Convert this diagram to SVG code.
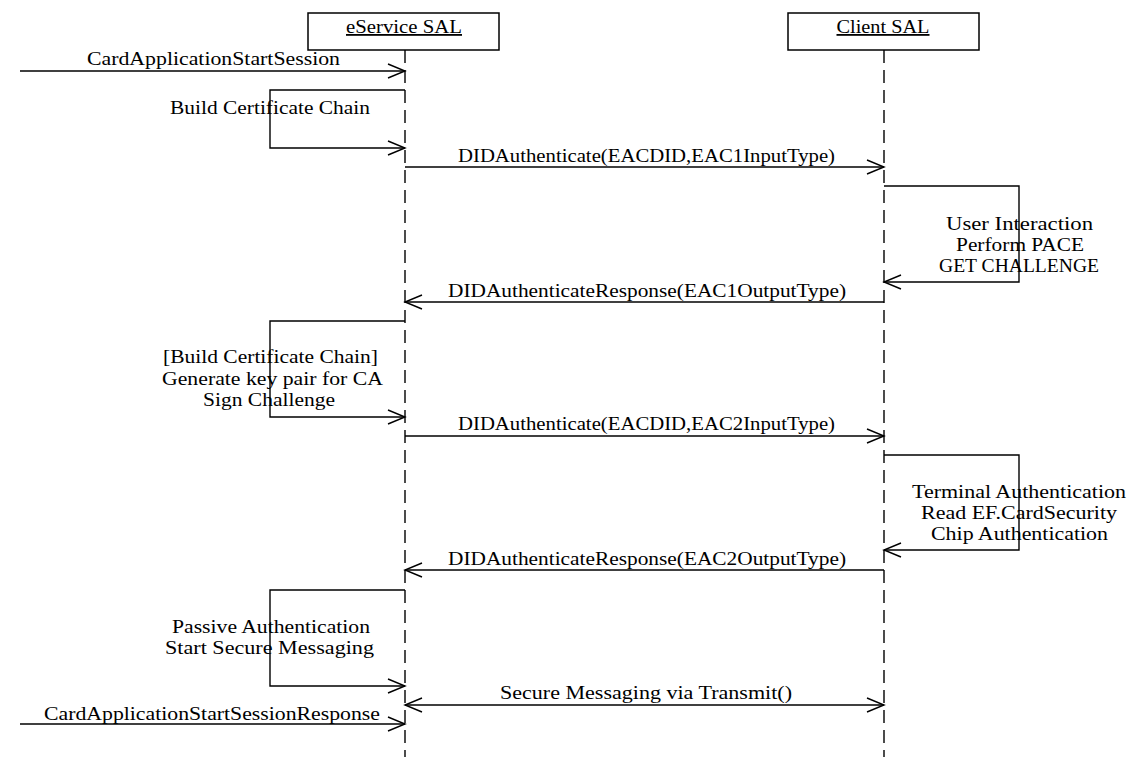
<svg xmlns="http://www.w3.org/2000/svg" width="1133" height="757" viewBox="0 0 1133 757">
<style>
  .bg { fill: #ffffff; }
  .box { fill: #ffffff; stroke: #000000; stroke-width: 1.5; }
  .life { stroke: #000000; stroke-width: 1.4; stroke-dasharray: 13 7; fill: none; }
  .msg { stroke: #000000; stroke-width: 1.4; fill: none; marker-end: url(#open); }
  .both { marker-start: url(#openStart); }
  text { font-family: "Liberation Serif", "DejaVu Serif", serif; font-size: 18px; fill: #000000; text-anchor: middle; }
  .head { text-decoration: underline; }
</style>
<defs>
  <marker id="open" markerUnits="userSpaceOnUse" markerWidth="22" markerHeight="18" viewBox="-19 -9 22 18" refX="0" refY="0" orient="auto">
    <path d="M-17,-7 L0,0 L-17,7" fill="none" stroke="#000000" stroke-width="1.4"/>
  </marker>
  <marker id="openStart" markerUnits="userSpaceOnUse" markerWidth="22" markerHeight="18" viewBox="-19 -9 22 18" refX="0" refY="0" orient="auto-start-reverse">
    <path d="M-17,-7 L0,0 L-17,7" fill="none" stroke="#000000" stroke-width="1.4"/>
  </marker>
</defs>
<rect class="bg" x="0" y="0" width="1133" height="757"/>

<g id="eservice-sal">
  <rect class="box" x="308" y="13" width="191" height="37"/>
  <text class="head" x="404" y="33" textLength="116" lengthAdjust="spacingAndGlyphs">eService SAL</text>
  <line class="life" x1="405" y1="50" x2="405" y2="757"/>
</g>

<g id="client-sal">
  <rect class="box" x="788" y="13" width="191" height="37"/>
  <text class="head" x="883" y="33" textLength="93" lengthAdjust="spacingAndGlyphs">Client SAL</text>
  <line class="life" x1="884" y1="50" x2="884" y2="757"/>
</g>

<g id="connectors">
  <path class="msg" d="M20,71 H405"/>
  <path class="msg" d="M405,90 H270 V148 H405"/>
  <path class="msg" d="M405,167 H884"/>
  <path class="msg" d="M884,186 H1019 V282 H884"/>
  <path class="msg" d="M884,302 H405"/>
  <path class="msg" d="M405,321 H270 V417 H405"/>
  <path class="msg" d="M405,436 H884"/>
  <path class="msg" d="M884,455 H1019 V550 H884"/>
  <path class="msg" d="M884,570 H405"/>
  <path class="msg" d="M405,590 H270 V686 H405"/>
  <path class="msg both" d="M405,705 H884"/>
  <path class="msg" d="M20,724 H405"/>
</g>

<g id="labels">
  <text x="213.5" y="65" textLength="253" lengthAdjust="spacingAndGlyphs">CardApplicationStartSession</text>
  <text x="270" y="114" textLength="200" lengthAdjust="spacingAndGlyphs">Build Certificate Chain</text>
  <text x="646.5" y="162" textLength="377" lengthAdjust="spacingAndGlyphs">DIDAuthenticate(EACDID,EAC1InputType)</text>
  <text x="1019.5" y="230" textLength="147" lengthAdjust="spacingAndGlyphs">User Interaction</text>
  <text x="1020" y="251" textLength="128" lengthAdjust="spacingAndGlyphs">Perform PACE</text>
  <text x="1019" y="272" textLength="160" lengthAdjust="spacingAndGlyphs">GET CHALLENGE</text>
  <text x="647" y="297" textLength="398" lengthAdjust="spacingAndGlyphs">DIDAuthenticateResponse(EAC1OutputType)</text>
  <text x="270.5" y="363" textLength="215" lengthAdjust="spacingAndGlyphs">[Build Certificate Chain]</text>
  <text x="272.5" y="385" textLength="221" lengthAdjust="spacingAndGlyphs">Generate key pair for CA</text>
  <text x="269" y="406" textLength="132" lengthAdjust="spacingAndGlyphs">Sign Challenge</text>
  <text x="646.5" y="430" textLength="377" lengthAdjust="spacingAndGlyphs">DIDAuthenticate(EACDID,EAC2InputType)</text>
  <text x="1019" y="498" textLength="214" lengthAdjust="spacingAndGlyphs">Terminal Authentication</text>
  <text x="1019" y="519" textLength="196" lengthAdjust="spacingAndGlyphs">Read EF.CardSecurity</text>
  <text x="1019.5" y="540" textLength="177" lengthAdjust="spacingAndGlyphs">Chip Authentication</text>
  <text x="647" y="565" textLength="398" lengthAdjust="spacingAndGlyphs">DIDAuthenticateResponse(EAC2OutputType)</text>
  <text x="271" y="633" textLength="198" lengthAdjust="spacingAndGlyphs">Passive Authentication</text>
  <text x="269.5" y="654" textLength="209" lengthAdjust="spacingAndGlyphs">Start Secure Messaging</text>
  <text x="646" y="699" textLength="292" lengthAdjust="spacingAndGlyphs">Secure Messaging via Transmit()</text>
  <text x="212" y="720" textLength="336" lengthAdjust="spacingAndGlyphs">CardApplicationStartSessionResponse</text>
</g>
</svg>
